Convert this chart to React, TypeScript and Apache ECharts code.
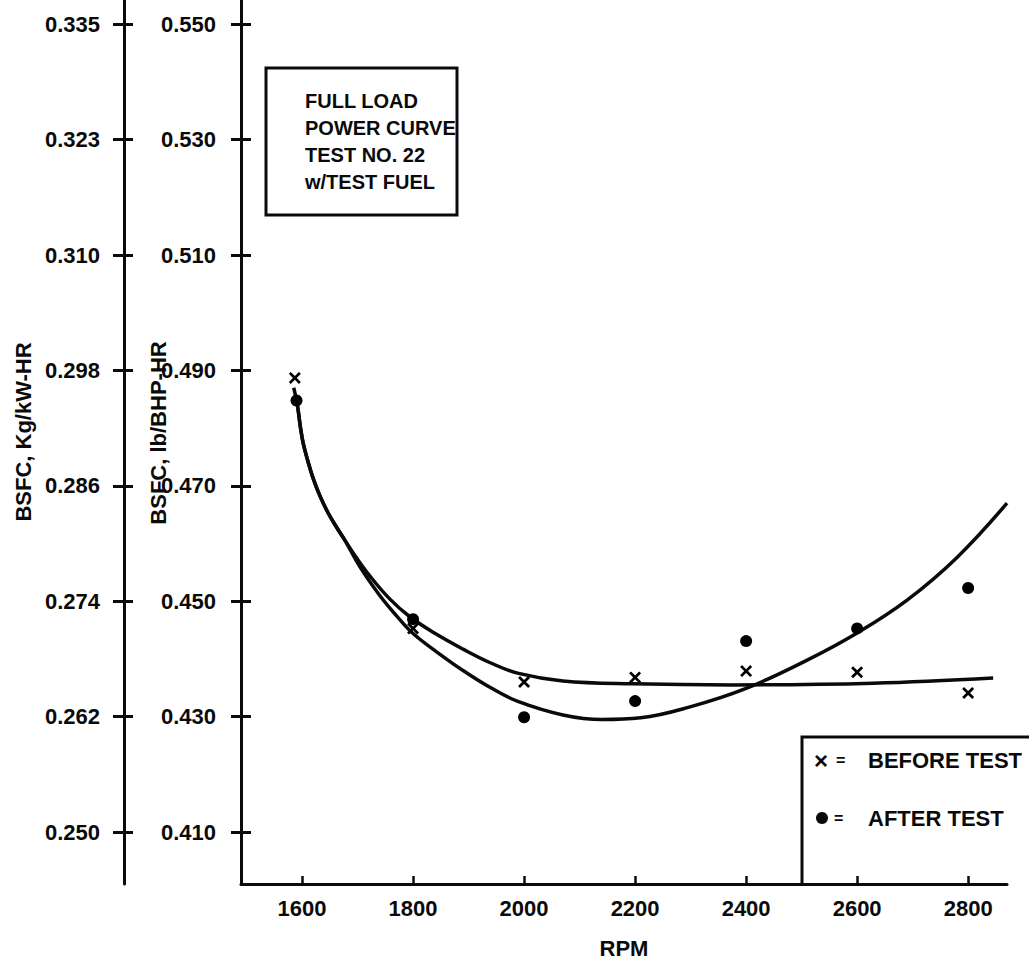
import React, { useEffect, useRef } from "react";
import * as echarts from "echarts";

// RPM tick positions
const rpmTicks = [1600, 1800, 2000, 2200, 2400, 2600, 2800];

// BSFC tick values (lb/BHP-HR) and the matching Kg/kW-HR labels
const lbTicks = [0.41, 0.43, 0.45, 0.47, 0.49, 0.51, 0.53, 0.55];
const kgLabels = ["0.250", "0.262", "0.274", "0.286", "0.298", "0.310", "0.323", "0.335"];

// Measured points, before the test (×)
const beforeRpm = [1587, 1800, 2000, 2200, 2400, 2600, 2800];
const beforeBsfc = [0.4887, 0.4453, 0.436, 0.4368, 0.4379, 0.4377, 0.4341];

// Measured points, after the test (●)
const afterRpm = [1590, 1800, 2000, 2200, 2400, 2600, 2800];
const afterBsfc = [0.4848, 0.4469, 0.4299, 0.4327, 0.4431, 0.4453, 0.4523];

// Faired curve through the "before" points
const beforeCurve: [number, number][] = [
  [1585, 0.487], [1590, 0.4848], [1593, 0.4831], [1597, 0.4802], [1602, 0.4774],
  [1611, 0.4741], [1620, 0.4713], [1632, 0.4683], [1647, 0.4653], [1663, 0.4627],
  [1677, 0.4606], [1699, 0.4574], [1722, 0.4544], [1757, 0.4505], [1793, 0.4474],
  [1840, 0.4444], [1890, 0.4417], [1940, 0.4393], [1990, 0.4375], [2070, 0.4362],
  [2196, 0.4357], [2376, 0.4355], [2629, 0.4358], [2845, 0.4367],
];

// Faired curve through the "after" points
const afterCurve: [number, number][] = [
  [1590, 0.4848], [1593, 0.4831], [1597, 0.4802], [1602, 0.4774], [1611, 0.4741],
  [1620, 0.4713], [1632, 0.4683], [1647, 0.4653], [1663, 0.4627], [1677, 0.4606],
  [1704, 0.456], [1740, 0.451], [1770, 0.4475], [1800, 0.4444], [1843, 0.4412],
  [1890, 0.438], [1940, 0.435], [1990, 0.4326], [2070, 0.4303], [2140, 0.4295],
  [2210, 0.4298], [2299, 0.4317], [2400, 0.4349], [2510, 0.4398], [2600, 0.4445],
  [2690, 0.4502], [2780, 0.4576], [2870, 0.467],
];

const FONT = "Liberation Sans, Arial, Helvetica, sans-serif";
const INK = "#0a0a0a";

// filled "×" glyph used for the before-test markers
const CROSS = "path://M0,1.6L1.6,0L5,3.4L8.4,0L10,1.6L6.6,5L10,8.4L8.4,10L5,6.6L1.6,10L0,8.4L3.4,5Z";

export default function App() {
  const ref = useRef<HTMLDivElement>(null);

  useEffect(() => {
    document.body.style.margin = "0";
    if (!ref.current) return;
    const chart = echarts.init(ref.current, undefined, { renderer: "svg" });

    const yMin = 0.401;
    const yMax = 0.5542;
    const labelStyle = { color: INK, fontFamily: FONT, fontSize: 22, fontWeight: "bold" as const };

    const baseY = {
      type: "value" as const,
      position: "left" as const,
      min: yMin,
      max: yMax,
      splitLine: { show: false },
    };

    chart.setOption({
      animation: false,
      backgroundColor: "#fff",
      grid: { left: 241, top: 0, width: 766, height: 884, containLabel: false },
      xAxis: {
        type: "value",
        min: 1490,
        max: 2870,
        name: "RPM",
        nameLocation: "middle",
        nameGap: 53,
        nameTextStyle: labelStyle,
        axisLine: { show: true, onZero: false, lineStyle: { color: INK, width: 3 } },
        axisTick: { show: true, inside: true, length: 8, customValues: rpmTicks, lineStyle: { color: INK, width: 2.5 } },
        axisLabel: { ...labelStyle, margin: 13, customValues: rpmTicks, formatter: (v: number) => String(v) },
        splitLine: { show: false },
      },
      yAxis: [
        {
          ...baseY,
          offset: 0,
          axisLine: { show: true, lineStyle: { color: INK, width: 3 } },
          axisTick: { show: true, inside: false, length: 10, customValues: lbTicks, lineStyle: { color: INK, width: 3 } },
          axisLabel: { ...labelStyle, margin: 25, customValues: lbTicks, formatter: (v: number) => v.toFixed(3) },
        },
        {
          ...baseY,
          offset: 0,
          axisLine: { show: false },
          axisTick: { show: true, inside: true, length: 10, customValues: lbTicks, lineStyle: { color: INK, width: 3 } },
          axisLabel: { show: false },
        },
        {
          ...baseY,
          offset: 117,
          axisLine: { show: true, lineStyle: { color: INK, width: 3 } },
          axisTick: { show: true, inside: false, length: 11, customValues: lbTicks, lineStyle: { color: INK, width: 3 } },
          axisLabel: {
            ...labelStyle,
            margin: 24,
            customValues: lbTicks,
            formatter: (v: number) => kgLabels[Math.round((v - 0.41) / 0.02)] ?? "",
          },
        },
        {
          ...baseY,
          offset: 117,
          axisLine: { show: false },
          axisTick: { show: true, inside: true, length: 9, customValues: lbTicks, lineStyle: { color: INK, width: 3 } },
          axisLabel: { show: false },
        },
      ],
      series: [
        {
          type: "line",
          data: beforeCurve,
          smooth: 0.4,
          showSymbol: false,
          lineStyle: { color: INK, width: 3.5 },
          z: 2,
        },
        {
          type: "line",
          data: afterCurve,
          smooth: 0.4,
          showSymbol: false,
          lineStyle: { color: INK, width: 3.5 },
          z: 2,
        },
        {
          type: "scatter",
          name: "BEFORE TEST",
          data: beforeRpm.map((r, i) => [r, beforeBsfc[i]]),
          symbol: CROSS,
          symbolSize: 12,
          itemStyle: { color: "#000", opacity: 1 },
          z: 3,
        },
        {
          type: "scatter",
          name: "AFTER TEST",
          data: afterRpm.map((r, i) => [r, afterBsfc[i]]),
          symbol: "circle",
          symbolSize: 12,
          itemStyle: { color: "#000", opacity: 1 },
          z: 3,
        },
      ],
      graphic: [
        // axis titles
        {
          type: "text",
          x: 23,
          y: 432,
          rotation: Math.PI / 2,
          style: { text: "BSFC, Kg/kW-HR", fill: INK, font: `bold 22px ${FONT}`, textAlign: "center", textVerticalAlign: "middle" },
        },
        {
          type: "text",
          x: 158,
          y: 433,
          rotation: Math.PI / 2,
          style: { text: "BSFC, lb/BHP-HR", fill: INK, font: `bold 22px ${FONT}`, textAlign: "center", textVerticalAlign: "middle" },
        },
        // note box
        {
          type: "rect",
          shape: { x: 266, y: 68, width: 191, height: 147 },
          style: { fill: "#fff", stroke: INK, lineWidth: 3 },
          z: 10,
        },
        ...["FULL LOAD", "POWER CURVE", "TEST NO. 22", "w/TEST FUEL"].map((t, i) => ({
          type: "text",
          x: 305,
          y: 101 + i * 27,
          z: 11,
          style: { text: t, fill: INK, font: `bold 20px ${FONT}`, textVerticalAlign: "middle" },
        })),
        // key box
        {
          type: "polyline",
          shape: { points: [[1029, 737], [802, 737], [802, 884]] },
          style: { stroke: INK, lineWidth: 3, fill: "none" },
          z: 10,
        },
        {
          type: "text",
          x: 814,
          y: 760,
          z: 11,
          style: { text: "×", fill: INK, font: `bold 24px ${FONT}`, textVerticalAlign: "middle" },
        },
        {
          type: "text",
          x: 836,
          y: 760,
          z: 11,
          style: { text: "=", fill: INK, font: `bold 16px ${FONT}`, textVerticalAlign: "middle" },
        },
        {
          type: "text",
          x: 868,
          y: 760,
          z: 11,
          style: { text: "BEFORE TEST", fill: INK, font: `bold 22px ${FONT}`, textVerticalAlign: "middle" },
        },
        {
          type: "circle",
          shape: { cx: 822, cy: 818, r: 6 },
          style: { fill: INK },
          z: 11,
        },
        {
          type: "text",
          x: 834,
          y: 818,
          z: 11,
          style: { text: "=", fill: INK, font: `bold 16px ${FONT}`, textVerticalAlign: "middle" },
        },
        {
          type: "text",
          x: 868,
          y: 818,
          z: 11,
          style: { text: "AFTER TEST", fill: INK, font: `bold 22px ${FONT}`, textVerticalAlign: "middle" },
        },
      ],
    });

    return () => chart.dispose();
  }, []);

  return <div ref={ref} style={{ width: 1029, height: 964 }} />;
}
